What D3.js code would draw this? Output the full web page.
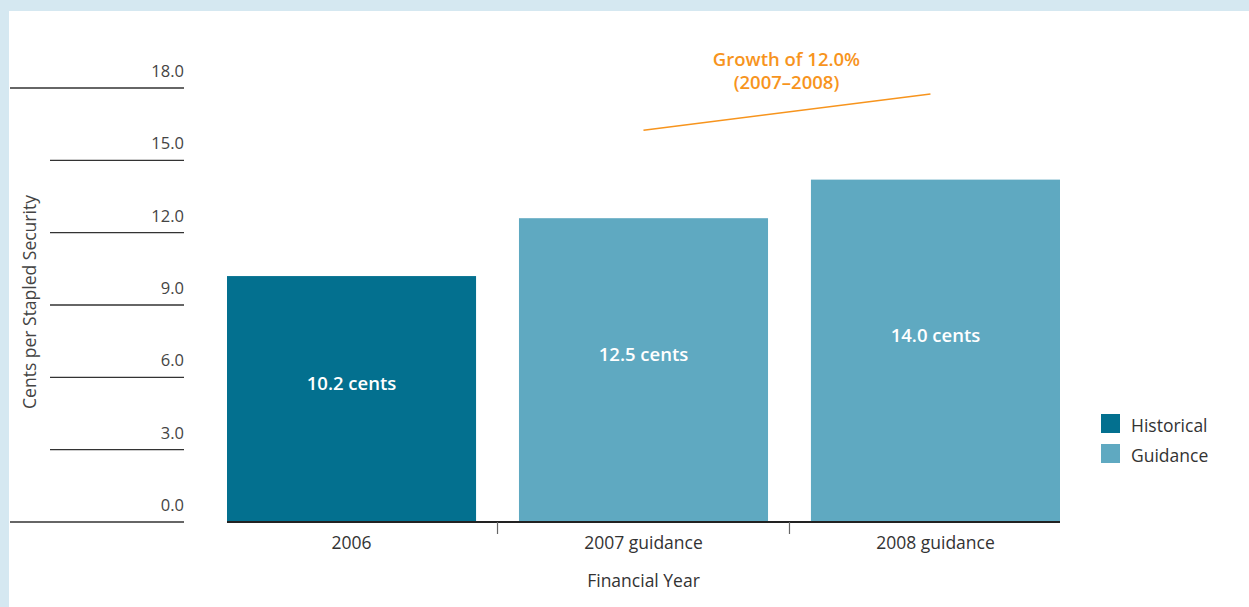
<!DOCTYPE html>
<html>
<head>
<meta charset="utf-8">
<script src="https://cdn.jsdelivr.net/npm/d3@7"></script>
<style>
  html, body { margin: 0; padding: 0; background: #d5e8f1; }
  svg { display: block; font-family: "Open Sans", "Noto Sans", sans-serif; }
</style>
</head>
<body>
<div id="chart"></div>
<script>
var width = 1249,
    height = 607;

// data
var categories = ["2006", "2007 guidance", "2008 guidance"];
var values = [10.2, 12.6, 14.2];
var barLabels = ["10.2 cents", "12.5 cents", "14.0 cents"];
var series = ["Historical", "Guidance", "Guidance"];
var legendItems = ["Historical", "Guidance"];
var yTicks = [0, 3, 6, 9, 12, 15, 18];
var growthText = ["Growth of 12.0%", "(2007\u20132008)"];
var growthLine = [["2007 guidance", 16.25], ["2008 guidance", 17.75]];

var color = d3.scaleOrdinal()
    .domain(legendItems)
    .range(["#03708f", "#5fa9c1"]);

var x = d3.scaleBand()
    .domain(categories)
    .range([227, 1060])
    .paddingInner(0.147)
    .paddingOuter(0);

var y = d3.scaleLinear()
    .domain([0, 18])
    .range([522, 88]);

var svg = d3.select("#chart").append("svg")
    .attr("width", width)
    .attr("height", height);

// white panel
svg.append("rect")
    .attr("x", 9)
    .attr("y", 11)
    .attr("width", width - 9)
    .attr("height", height - 11)
    .attr("fill", "#fff");

// y gridlines and tick labels on the left
var grid = svg.append("g").attr("class", "grid");

grid.selectAll("line")
    .data(yTicks)
    .enter().append("line")
    .attr("x1", function(d) { return (d === 0 || d === 18) ? 10 : 50; })
    .attr("x2", 184)
    .attr("y1", function(d) { return y(d); })
    .attr("y2", function(d) { return y(d); })
    .attr("stroke", "#333")
    .attr("stroke-width", 1.3);

grid.selectAll("text")
    .data(yTicks)
    .enter().append("text")
    .attr("x", 184)
    .attr("y", function(d) { return y(d) - 11; })
    .attr("text-anchor", "end")
    .attr("font-size", 16.5)
    .attr("fill", "#444")
    .text(function(d) { return d3.format(".1f")(d); });

// y axis title
svg.append("text")
    .attr("transform", "translate(36," + (y(9) - 3) + ")rotate(-90)")
    .attr("text-anchor", "middle")
    .attr("font-size", 17.5)
    .attr("fill", "#444")
    .text("Cents per Stapled Security");

// bars
var bars = svg.append("g").attr("class", "bars");

bars.selectAll("rect")
    .data(values)
    .enter().append("rect")
    .attr("x", function(d, i) { return x(categories[i]); })
    .attr("y", function(d) { return y(d); })
    .attr("width", x.bandwidth())
    .attr("height", function(d) { return y(0) - y(d); })
    .attr("fill", function(d, i) { return color(series[i]); });

bars.selectAll("text")
    .data(values)
    .enter().append("text")
    .attr("x", function(d, i) { return x(categories[i]) + x.bandwidth() / 2; })
    .attr("y", function(d) { return (y(d) + y(0)) / 2 - 9; })
    .attr("text-anchor", "middle")
    .attr("font-size", 18.5)
    .attr("font-weight", 600)
    .attr("fill", "#fff")
    .text(function(d, i) { return barLabels[i]; });

// x axis
var xAxis = svg.append("g").attr("class", "x-axis");

xAxis.append("line")
    .attr("x1", x.range()[0])
    .attr("x2", x.range()[1])
    .attr("y1", y(0))
    .attr("y2", y(0))
    .attr("stroke", "#222")
    .attr("stroke-width", 2);

xAxis.selectAll(".sep")
    .data(categories.slice(1))
    .enter().append("line")
    .attr("class", "sep")
    .attr("x1", function(d) { return x(d) - x.step() * x.paddingInner() / 2; })
    .attr("x2", function(d) { return x(d) - x.step() * x.paddingInner() / 2; })
    .attr("y1", y(0))
    .attr("y2", y(0) + 12)
    .attr("stroke", "#666")
    .attr("stroke-width", 1.2);

xAxis.selectAll("text")
    .data(categories)
    .enter().append("text")
    .attr("x", function(d) { return x(d) + x.bandwidth() / 2; })
    .attr("y", 549)
    .attr("text-anchor", "middle")
    .attr("font-size", 17.5)
    .attr("fill", "#333")
    .text(function(d) { return d; });

svg.append("text")
    .attr("x", (x.range()[0] + x.range()[1]) / 2)
    .attr("y", 587)
    .attr("text-anchor", "middle")
    .attr("font-size", 17.5)
    .attr("fill", "#333")
    .text("Financial Year");

// growth annotation
var gx = function(p) { return x(p[0]) + x.bandwidth() / 2; };

svg.append("line")
    .attr("x1", gx(growthLine[0]))
    .attr("y1", y(growthLine[0][1]))
    .attr("x2", gx(growthLine[1]) - 5)
    .attr("y2", y(growthLine[1][1]))
    .attr("stroke", "#f7941d")
    .attr("stroke-width", 1.6);

svg.append("g")
    .selectAll("text")
    .data(growthText)
    .enter().append("text")
    .attr("x", (gx(growthLine[0]) + gx(growthLine[1])) / 2 - 3)
    .attr("y", function(d, i) { return 66 + i * 23; })
    .attr("text-anchor", "middle")
    .attr("font-size", 18.5)
    .attr("font-weight", 600)
    .attr("fill", "#f7941d")
    .text(function(d) { return d; });

// legend
var legend = svg.append("g")
    .attr("transform", "translate(1101,414)")
    .selectAll("g")
    .data(legendItems)
    .enter().append("g")
    .attr("transform", function(d, i) { return "translate(0," + i * 30 + ")"; });

legend.append("rect")
    .attr("width", 19)
    .attr("height", 19)
    .attr("fill", function(d) { return color(d); });

legend.append("text")
    .attr("x", 30)
    .attr("y", 18)
    .attr("font-size", 17.5)
    .attr("fill", "#333")
    .text(function(d) { return d; });
</script>
</body>
</html>
